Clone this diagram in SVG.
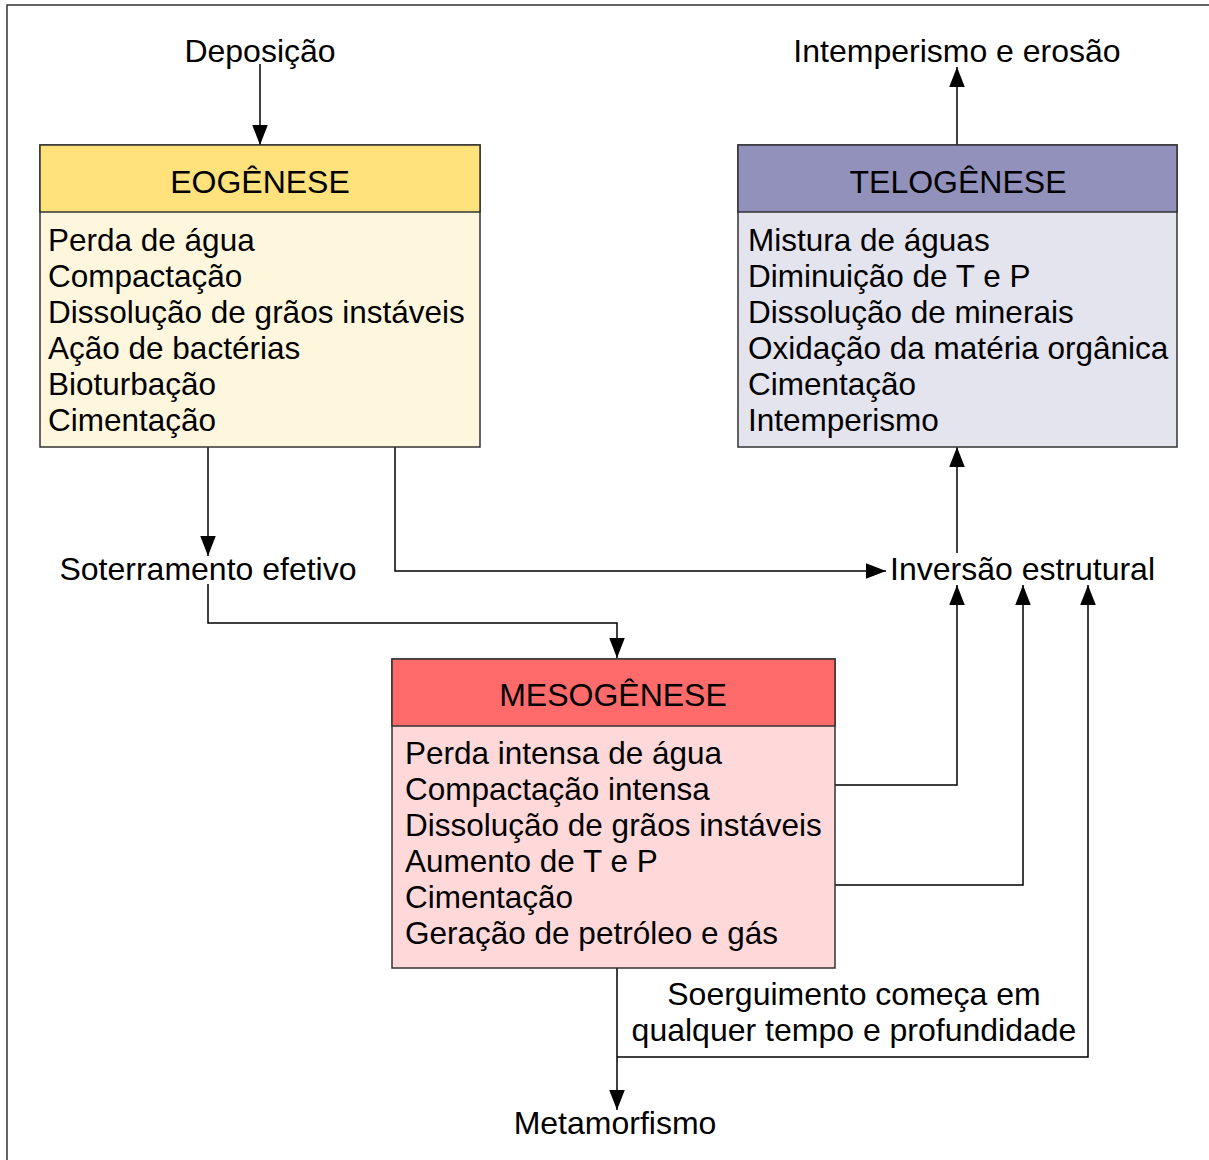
<svg xmlns="http://www.w3.org/2000/svg" width="1209" height="1160" viewBox="0 0 1209 1160">
<style>
text{font-family:"Liberation Sans",Arial,sans-serif;fill:#000}
.lbl{font-size:32px}
.ttl{font-size:32px;text-anchor:middle}
.itm{font-size:31.5px}
.box{stroke:#333;stroke-width:1.5}
.con{fill:none;stroke:#000;stroke-width:1.5}
</style>
<defs>
<marker id="ah" markerUnits="userSpaceOnUse" markerWidth="20" markerHeight="20" viewBox="0 0 18 14" refX="18" refY="7" orient="auto">
<path d="M0,0 L18,7 L0,14 Z" fill="#000"/>
</marker>
</defs>
<rect width="1209" height="1160" fill="#fff"/>
<path d="M7,1160 V5 H1209" fill="none" stroke="#333" stroke-width="1.5"/>

<g id="connectors">
<path class="con" d="M260,64 V145" marker-end="url(#ah)"/>
<path class="con" d="M957,145 V67" marker-end="url(#ah)"/>
<path class="con" d="M208,447 V556" marker-end="url(#ah)"/>
<path class="con" d="M208,584 V623 H617 V658" marker-end="url(#ah)"/>
<path class="con" d="M395,447 V571 H886" marker-end="url(#ah)"/>
<path class="con" d="M957,553 V447" marker-end="url(#ah)"/>
<path class="con" d="M835,785 H957 V585" marker-end="url(#ah)"/>
<path class="con" d="M835,885 H1023 V585" marker-end="url(#ah)"/>
<path class="con" d="M617,1057 H1088 V585" marker-end="url(#ah)"/>
<path class="con" d="M617,968 V1110" marker-end="url(#ah)"/>
</g>

<g id="deposicao"><text class="lbl" x="260" y="62" text-anchor="middle">Deposição</text></g>
<g id="intemperismo-erosao"><text class="lbl" x="957" y="62" text-anchor="middle">Intemperismo e erosão</text></g>
<g id="soterramento"><text class="lbl" x="208" y="580" text-anchor="middle">Soterramento efetivo</text></g>
<g id="inversao"><text class="lbl" x="890" y="580">Inversão estrutural</text></g>
<g id="metamorfismo"><text class="lbl" x="615" y="1134" text-anchor="middle">Metamorfismo</text></g>
<g id="soerguimento">
<text class="lbl" x="854" y="1005" text-anchor="middle">Soerguimento começa em</text>
<text class="lbl" x="854" y="1041" text-anchor="middle">qualquer tempo e profundidade</text>
</g>

<g id="eogenese">
<rect class="box" x="40" y="145" width="440" height="302" fill="#FFF7DD"/>
<rect class="box" x="40" y="145" width="440" height="67" fill="#FFE27C"/>
<text class="ttl" x="260" y="193">EOGÊNESE</text>
<text class="itm" x="48" y="250.5">Perda de água</text>
<text class="itm" x="48" y="286.5">Compactação</text>
<text class="itm" x="48" y="322.5">Dissolução de grãos instáveis</text>
<text class="itm" x="48" y="358.5">Ação de bactérias</text>
<text class="itm" x="48" y="394.5">Bioturbação</text>
<text class="itm" x="48" y="430.5">Cimentação</text>
</g>

<g id="telogenese">
<rect class="box" x="738" y="145" width="439" height="302" fill="#E4E4EE"/>
<rect class="box" x="738" y="145" width="439" height="67" fill="#9191BB"/>
<text class="ttl" x="958" y="193">TELOGÊNESE</text>
<text class="itm" x="748" y="250.5">Mistura de águas</text>
<text class="itm" x="748" y="286.5">Diminuição de T e P</text>
<text class="itm" x="748" y="322.5">Dissolução de minerais</text>
<text class="itm" x="748" y="358.5">Oxidação da matéria orgânica</text>
<text class="itm" x="748" y="394.5">Cimentação</text>
<text class="itm" x="748" y="430.5">Intemperismo</text>
</g>

<g id="mesogenese">
<rect class="box" x="392" y="659" width="443" height="309" fill="#FFD9D9"/>
<rect class="box" x="392" y="659" width="443" height="67" fill="#FF6B6B"/>
<text class="ttl" x="613" y="706">MESOGÊNESE</text>
<text class="itm" x="405" y="763.5">Perda intensa de água</text>
<text class="itm" x="405" y="799.5">Compactação intensa</text>
<text class="itm" x="405" y="835.5">Dissolução de grãos instáveis</text>
<text class="itm" x="405" y="871.5">Aumento de T e P</text>
<text class="itm" x="405" y="907.5">Cimentação</text>
<text class="itm" x="405" y="943.5">Geração de petróleo e gás</text>
</g>
</svg>
